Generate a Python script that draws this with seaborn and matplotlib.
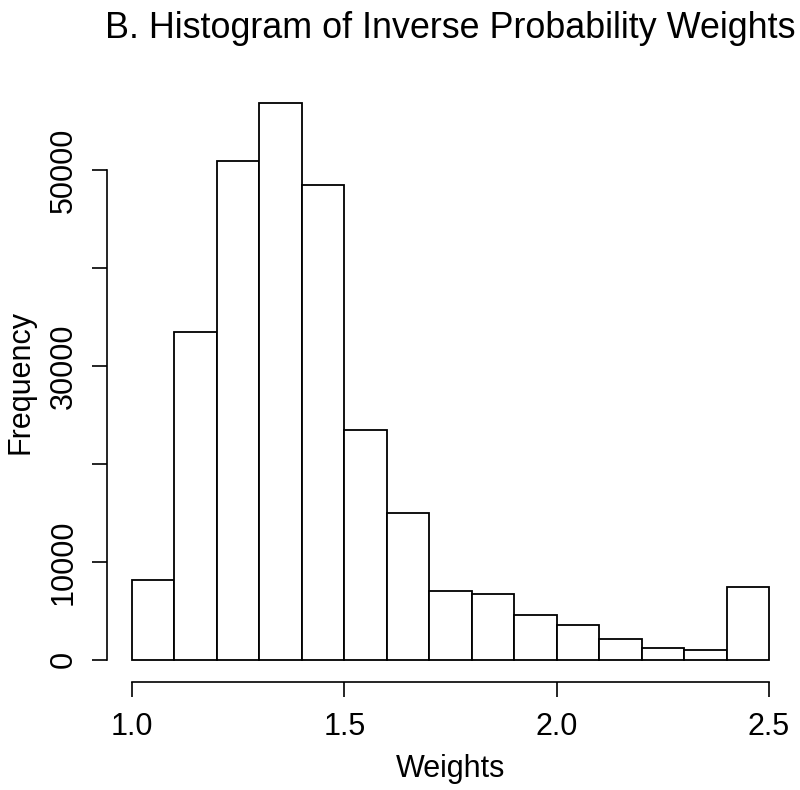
import numpy as np
import pandas as pd
import matplotlib
matplotlib.use("Agg")
import matplotlib.pyplot as plt
import seaborn as sns

# Data
bin_edges = [1.0, 1.1, 1.2, 1.3, 1.4, 1.5, 1.6, 1.7, 1.8, 1.9, 2.0, 2.1, 2.2, 2.3, 2.4, 2.5]
counts = [8090, 33500, 50950, 56800, 48500, 23430, 14930, 7000, 6660, 4550, 3570, 2070, 1180, 980, 7450]
x_ticks = [1.0, 1.5, 2.0, 2.5]
x_tick_labels = ["1.0", "1.5", "2.0", "2.5"]
y_ticks = [0, 10000, 20000, 30000, 40000, 50000]
y_tick_labels = ["0", "10000", "", "30000", "", "50000"]

sns.set_style("white")
plt.rcParams["font.family"] = ["Liberation Sans", "DejaVu Sans"]
plt.rcParams["text.color"] = "black"
plt.rcParams["axes.labelcolor"] = "black"
plt.rcParams["xtick.color"] = "black"
plt.rcParams["ytick.color"] = "black"

mids = [(a + b) / 2 for a, b in zip(bin_edges[:-1], bin_edges[1:])]
df = pd.DataFrame({"Weights": mids, "count": counts})

W, H = 800, 790
fig = plt.figure(figsize=(8, 7.9), dpi=100)
ax = fig.add_axes([106.5 / W, 1 - 682 / H, 688 / W, 601 / H])

sns.histplot(data=df, x="Weights", weights="count", bins=bin_edges, ax=ax,
             color="white", edgecolor="black", linewidth=1.3, alpha=1.0)

ymax = max(counts)
ax.set_xlim(1.0 - 0.06, 2.5 + 0.06)
ax.set_ylim(-0.04 * ymax, 1.04 * ymax)

for s in ["top", "right"]:
    ax.spines[s].set_visible(False)
for s in ["left", "bottom"]:
    ax.spines[s].set_visible(True)
    ax.spines[s].set_color("black")
    ax.spines[s].set_linewidth(1.2)
ax.spines["left"].set_bounds(0, 50000)
ax.spines["bottom"].set_bounds(1.0, 2.5)

fs = 22
ax.set_xticks(x_ticks)
ax.set_xticklabels(x_tick_labels)
ax.set_yticks(y_ticks)
ax.set_yticklabels(y_tick_labels, rotation=90, va="center")
ax.tick_params(axis="both", direction="out", length=10.8, width=1.2, color="black",
               labelsize=fs, labelcolor="black", left=True, bottom=True)
ax.tick_params(axis="x", pad=11)
ax.tick_params(axis="y", pad=9)

ax.set_xlabel("Weights", fontsize=fs)
ax.set_ylabel("Frequency", fontsize=fs)
ax.xaxis.set_label_coords(0.5, (682 - 769) / 601)
ax.xaxis.label.set_va("center")
ax.yaxis.set_label_coords((20.5 - 106.5) / 688, 0.5)
ax.yaxis.label.set_va("center")
ax.yaxis.label.set_ha("center")

ax.set_title("B. Histogram of Inverse Probability Weights", fontsize=25.8,
             y=(682 - 28) / 601, va="center", pad=0)
ax.grid(False)

fig.savefig("out.png", dpi=100, facecolor="white")
